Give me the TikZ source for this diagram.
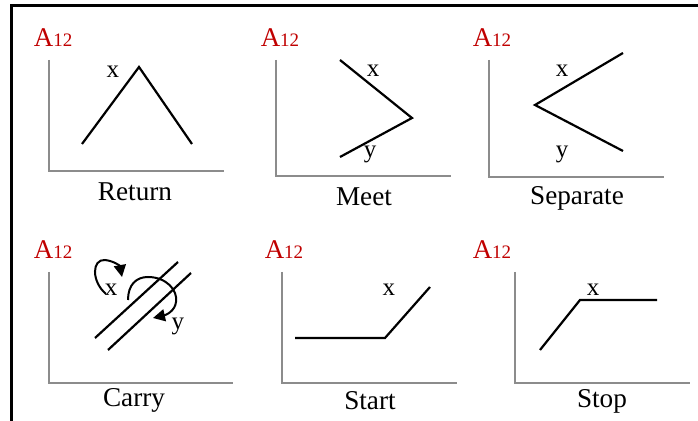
\documentclass[tikz,border=0pt]{standalone}
\usepackage{fontspec}
\setmainfont{Liberation Serif}
\usetikzlibrary{arrows.meta}
\definecolor{ampRed}{HTML}{C00000}
\definecolor{axisGray}{HTML}{8C8C8C}
\newcommand{\ampLabel}{{\fontsize{13.5}{16}\selectfont A}{\fontsize{9.5}{11}\selectfont 12}}
\tikzset{
  frame line/.style={draw=black, line width=1.4pt},
  axis line/.style={draw=axisGray, line width=0.9pt},
  trace line/.style={draw=black, line width=1.1pt, line join=miter},
  turn arrow/.style={draw=black, line width=1pt, -{Triangle[length=6pt,width=6pt]}},
  panel title/.style={inner sep=0pt, font=\fontsize{13.6}{16}\selectfont},
  trace label/.style={inner sep=0pt, font=\fontsize{12.5}{14}\selectfont},
  amp label/.style={inner sep=0pt, text=ampRed},
}

\begin{document}
\begin{tikzpicture}[x=0.5pt, y=-0.5pt]
\useasboundingbox (0,0) rectangle (698,421);

% outer frame (top and left only)
\draw[frame line] (698,5.5) -- (11.5,5.5) -- (11.5,421);

% --- Return ---
\node[amp label] (amp1) at (53,38) {\ampLabel};
\draw[axis line] (49,60) -- (49,171) -- (224,171);
\draw[trace line] (82,144) -- (139,67) -- (192,144);
\node[trace label] (ret x) at (113,72) {x};
\node[panel title] (ret) at (135,192) {Return};

% --- Meet ---
\node[amp label] (amp2) at (280,38) {\ampLabel};
\draw[axis line] (276,60) -- (276,176) -- (451,176);
\draw[trace line] (340,60) -- (412,118) -- (340,157);
\node[trace label] (meet x) at (373,71) {x};
\node[trace label] (meet y) at (370,154) {y};
\node[panel title] (meet) at (364,197) {Meet};

% --- Separate ---
\node[amp label] (amp3) at (492,38) {\ampLabel};
\draw[axis line] (489,60) -- (489,177) -- (664,177);
\draw[trace line] (623,53) -- (535,105) -- (623,151);
\node[trace label] (sep x) at (562,71) {x};
\node[trace label] (sep y) at (562,154) {y};
\node[panel title] (sep) at (577,198) {Separate};

% --- Carry ---
\node[amp label] (amp4) at (53,250) {\ampLabel};
\draw[axis line] (49,272) -- (49,383) -- (233,383);
\draw[trace line] (95,338) -- (178,262);
\draw[trace line] (108,350) -- (191,273);
\draw[turn arrow] (106,294) .. controls (91,281) and (92,259) .. (105,260)
  .. controls (114,261) and (120,266) .. (122,277);
\draw[turn arrow] (128,300) .. controls (128,285) and (136,277) .. (148,277)
  .. controls (166,277) and (178,290) .. (176,302)
  .. controls (175,311) and (166,315) .. (153,318);
\node[trace label] (car x) at (111,290) {x};
\node[trace label] (car y) at (178,326) {y};
\node[panel title] (car) at (134,400) {Carry};

% --- Start ---
\node[amp label] (amp5) at (284,250) {\ampLabel};
\draw[axis line] (282,272) -- (282,383) -- (457,383);
\draw[trace line] (295,338) -- (385,338) -- (430,287);
\node[trace label] (sta x) at (389,290) {x};
\node[panel title] (sta) at (370,401) {Start};

% --- Stop ---
\node[amp label] (amp6) at (492,250) {\ampLabel};
\draw[axis line] (515,272) -- (515,383) -- (690,383);
\draw[trace line] (540,350) -- (580,300) -- (657,300);
\node[trace label] (sto x) at (593,290) {x};
\node[panel title] (sto) at (602,401) {Stop};

\end{tikzpicture}
\end{document}
